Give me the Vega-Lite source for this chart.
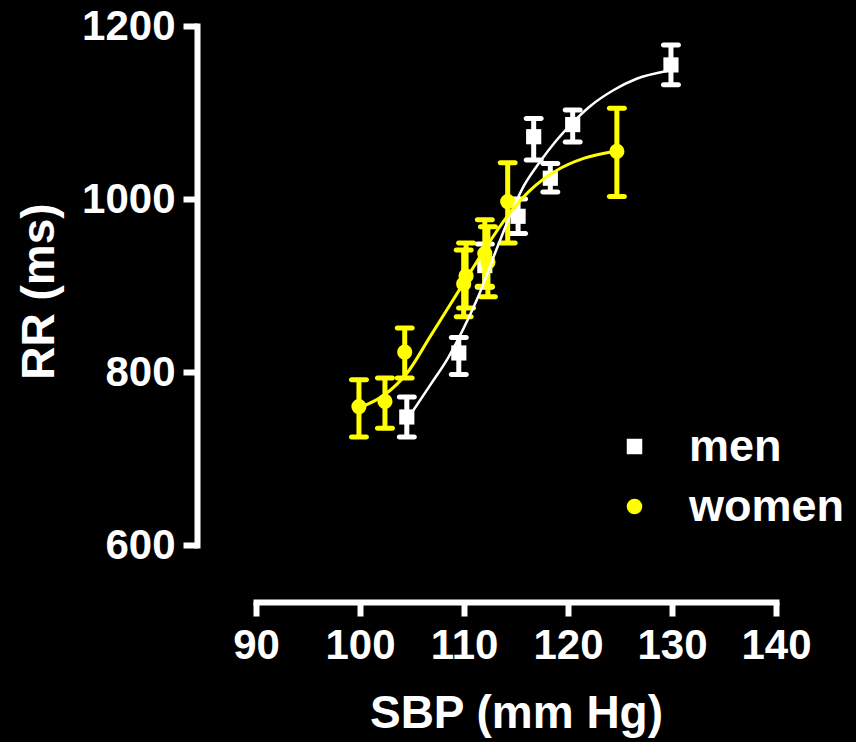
{
  "$schema": "https://vega.github.io/schema/vega-lite/v6.json",
  "width": 520,
  "height": 519,
  "autosize": {"type": "none"},
  "padding": {"left": 256, "top": 26, "right": 80, "bottom": 197},
  "background": "black",
  "config": {
    "view": {"stroke": null},
    "font": "Liberation Sans",
    "axis": {"grid": false}
  },
  "datasets": {
    "pts": [
      {"group": "men", "sbp": 104.5, "rr": 748, "lo": 725, "hi": 771},
      {"group": "men", "sbp": 109.5, "rr": 822, "lo": 797, "hi": 840},
      {"group": "men", "sbp": 112.0, "rr": 923, "lo": 898, "hi": 948},
      {"group": "men", "sbp": 115.2, "rr": 980, "lo": 960, "hi": 1000},
      {"group": "men", "sbp": 116.7, "rr": 1072, "lo": 1045, "hi": 1093},
      {"group": "men", "sbp": 118.3, "rr": 1024, "lo": 1008, "hi": 1041},
      {"group": "men", "sbp": 120.45, "rr": 1086, "lo": 1066, "hi": 1103},
      {"group": "men", "sbp": 129.9, "rr": 1155, "lo": 1132, "hi": 1178},
      {"group": "women", "sbp": 99.9, "rr": 760, "lo": 725, "hi": 791},
      {"group": "women", "sbp": 102.4, "rr": 766, "lo": 735, "hi": 793},
      {"group": "women", "sbp": 104.3, "rr": 823, "lo": 793, "hi": 851},
      {"group": "women", "sbp": 110.2, "rr": 911, "lo": 874, "hi": 949},
      {"group": "women", "sbp": 109.97, "rr": 902, "lo": 864, "hi": 941},
      {"group": "women", "sbp": 112.0, "rr": 937, "lo": 899, "hi": 976},
      {"group": "women", "sbp": 112.3, "rr": 927, "lo": 887, "hi": 968},
      {"group": "women", "sbp": 114.2, "rr": 997, "lo": 949, "hi": 1042},
      {"group": "women", "sbp": 124.7, "rr": 1055, "lo": 1003, "hi": 1105}
    ],
    "curves": [
      {"group": "men", "sbp": 104.7, "rr": 748},
      {"group": "men", "sbp": 106.7, "rr": 784},
      {"group": "men", "sbp": 108.5, "rr": 817},
      {"group": "men", "sbp": 109.9, "rr": 849},
      {"group": "men", "sbp": 111.5, "rr": 891},
      {"group": "men", "sbp": 113.1, "rr": 941},
      {"group": "men", "sbp": 114.4, "rr": 980},
      {"group": "men", "sbp": 115.7, "rr": 1014},
      {"group": "men", "sbp": 117.3, "rr": 1043},
      {"group": "men", "sbp": 118.9, "rr": 1068},
      {"group": "men", "sbp": 120.5, "rr": 1089},
      {"group": "men", "sbp": 122.1, "rr": 1107},
      {"group": "men", "sbp": 124.4, "rr": 1126},
      {"group": "men", "sbp": 126.6, "rr": 1139},
      {"group": "men", "sbp": 129.5, "rr": 1148},
      {"group": "women", "sbp": 100.2, "rr": 760},
      {"group": "women", "sbp": 102.4, "rr": 774},
      {"group": "women", "sbp": 104.6, "rr": 800},
      {"group": "women", "sbp": 106.7, "rr": 840},
      {"group": "women", "sbp": 109.3, "rr": 890},
      {"group": "women", "sbp": 111.9, "rr": 940},
      {"group": "women", "sbp": 114.1, "rr": 979},
      {"group": "women", "sbp": 116.35, "rr": 1010},
      {"group": "women", "sbp": 118.9, "rr": 1033},
      {"group": "women", "sbp": 121.5, "rr": 1047},
      {"group": "women", "sbp": 124.4, "rr": 1055}
    ]
  },
  "encoding": {
    "x": {
      "field": "sbp", "type": "quantitative",
      "scale": {"domain": [90, 140], "nice": false, "zero": false},
      "axis": {
        "title": "SBP (mm Hg)", "values": [90, 100, 110, 120, 130, 140], "format": "d",
        "labelOverlap": false, "labelBound": false, "labelFlush": false,
        "offset": 57, "domainColor": "white", "domainWidth": 6, "domainCap": "square",
        "tickColor": "white", "tickWidth": 6, "tickSize": 14,
        "labelColor": "white", "labelFont": "Liberation Sans", "labelFontWeight": "bold", "labelFontSize": 42, "labelPadding": 9,
        "titleColor": "white", "titleFont": "Liberation Sans", "titleFontWeight": "bold", "titleFontSize": 46,
        "titleBaseline": "alphabetic", "titleY": 125
      }
    },
    "y": {
      "field": "rr", "type": "quantitative",
      "scale": {"domain": [600, 1200], "nice": false, "zero": false},
      "axis": {
        "title": "RR (ms)", "values": [600, 800, 1000, 1200], "format": "d",
        "labelOverlap": false, "labelBound": false, "labelFlush": false,
        "offset": 59, "domainColor": "white", "domainWidth": 6, "domainCap": "square",
        "tickColor": "white", "tickWidth": 6, "tickSize": 14,
        "labelColor": "white", "labelFont": "Liberation Sans", "labelFontWeight": "bold", "labelFontSize": 42, "labelPadding": 8,
        "titleColor": "white", "titleFont": "Liberation Sans", "titleFontWeight": "bold", "titleFontSize": 46,
        "titleAngle": -90, "titleBaseline": "alphabetic", "titleX": -144, "titleY": 265
      }
    }
  },
  "layer": [
    {"data": {"name": "pts"}, "transform": [{"filter": "datum.group === 'men'"}],
     "mark": {"type": "rule", "color": "white", "strokeWidth": 5},
     "encoding": {"y": {"field": "lo", "type": "quantitative"}, "y2": {"field": "hi"}}},
    {"data": {"name": "pts"}, "transform": [{"filter": "datum.group === 'men'"}],
     "mark": {"type": "tick", "orient": "horizontal", "color": "white", "size": 20, "thickness": 5, "cornerRadius": 2.5, "opacity": 1},
     "encoding": {"y": {"field": "hi", "type": "quantitative"}}},
    {"data": {"name": "pts"}, "transform": [{"filter": "datum.group === 'men'"}],
     "mark": {"type": "tick", "orient": "horizontal", "color": "white", "size": 20, "thickness": 5, "cornerRadius": 2.5, "opacity": 1},
     "encoding": {"y": {"field": "lo", "type": "quantitative"}}},
    {"data": {"name": "pts"}, "transform": [{"filter": "datum.group === 'men'"}],
     "mark": {"type": "point", "filled": true, "size": 230, "opacity": 1},
     "encoding": {
       "color": {"field": "group", "type": "nominal", "scale": {"domain": ["men", "women"], "range": ["white", "yellow"]},
         "legend": {"title": null, "orient": "none", "legendX": 356, "legendY": 398, "padding": 0,
           "labelColor": "white", "labelFont": "Liberation Sans", "labelFontWeight": "bold", "labelFontSize": 45,
           "labelLimit": 400, "labelOffset": 32, "symbolSize": 240, "rowPadding": 14, "symbolStrokeWidth": 0}},
       "shape": {"field": "group", "type": "nominal", "scale": {"domain": ["men", "women"], "range": ["square", "circle"]},
         "legend": {"title": null, "orient": "none", "legendX": 356, "legendY": 398, "padding": 0,
           "labelColor": "white", "labelFont": "Liberation Sans", "labelFontWeight": "bold", "labelFontSize": 45,
           "labelLimit": 400, "labelOffset": 32, "symbolSize": 240, "rowPadding": 14, "symbolStrokeWidth": 0}}
     }},
    {"data": {"name": "pts"}, "transform": [{"filter": "datum.group === 'women'"}],
     "mark": {"type": "rule", "color": "yellow", "strokeWidth": 5},
     "encoding": {"y": {"field": "lo", "type": "quantitative"}, "y2": {"field": "hi"}}},
    {"data": {"name": "pts"}, "transform": [{"filter": "datum.group === 'women'"}],
     "mark": {"type": "tick", "orient": "horizontal", "color": "yellow", "size": 20, "thickness": 5, "cornerRadius": 2.5, "opacity": 1},
     "encoding": {"y": {"field": "hi", "type": "quantitative"}}},
    {"data": {"name": "pts"}, "transform": [{"filter": "datum.group === 'women'"}],
     "mark": {"type": "tick", "orient": "horizontal", "color": "yellow", "size": 20, "thickness": 5, "cornerRadius": 2.5, "opacity": 1},
     "encoding": {"y": {"field": "lo", "type": "quantitative"}}},
    {"data": {"name": "pts"}, "transform": [{"filter": "datum.group === 'women'"}],
     "mark": {"type": "point", "filled": true, "size": 230, "opacity": 1},
     "encoding": {
       "color": {"field": "group", "type": "nominal"},
       "shape": {"field": "group", "type": "nominal"}
     }},
    {"data": {"name": "curves"}, "transform": [{"filter": "datum.group === 'men'"}],
     "mark": {"type": "line", "color": "white", "strokeWidth": 2.5, "interpolate": "monotone"},
     "encoding": {"order": {"field": "sbp", "type": "quantitative"}}},
    {"data": {"name": "curves"}, "transform": [{"filter": "datum.group === 'women'"}],
     "mark": {"type": "line", "color": "yellow", "strokeWidth": 3, "interpolate": "monotone"},
     "encoding": {"order": {"field": "sbp", "type": "quantitative"}}}
  ]
}
